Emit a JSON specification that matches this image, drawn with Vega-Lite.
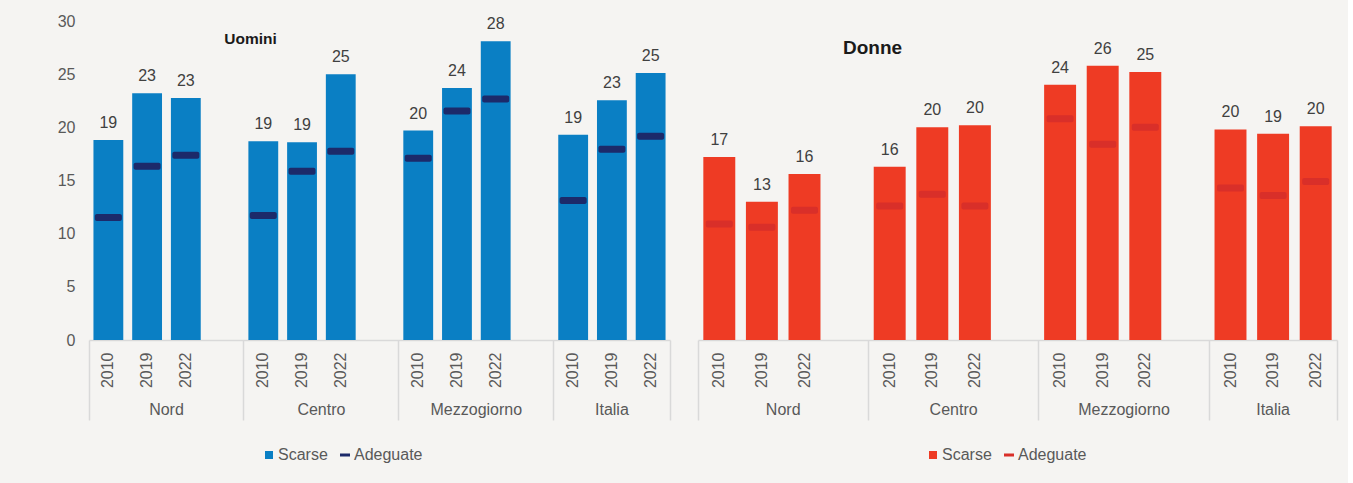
{
  "$schema": "https://vega.github.io/schema/vega-lite/v6.json",
  "background": "#f5f4f2",
  "padding": {"left": 57, "top": 13, "right": 10, "bottom": 24},
  "config": {"view": {"stroke": null}, "font": "Liberation Sans", "text": {"font": "Liberation Sans"}},
  "datasets": {
    "uomini": [
      {"slot": "Nord 2010", "scarse": 18.8, "adeguate": 11.52},
      {"slot": "Nord 2019", "scarse": 23.2, "adeguate": 16.34},
      {"slot": "Nord 2022", "scarse": 22.76, "adeguate": 17.37},
      {"slot": "Centro 2010", "scarse": 18.7, "adeguate": 11.7},
      {"slot": "Centro 2019", "scarse": 18.6, "adeguate": 15.86},
      {"slot": "Centro 2022", "scarse": 25.0, "adeguate": 17.75},
      {"slot": "Mezzogiorno 2010", "scarse": 19.7, "adeguate": 17.09},
      {"slot": "Mezzogiorno 2019", "scarse": 23.7, "adeguate": 21.53},
      {"slot": "Mezzogiorno 2022", "scarse": 28.1, "adeguate": 22.66},
      {"slot": "Italia 2010", "scarse": 19.3, "adeguate": 13.13},
      {"slot": "Italia 2019", "scarse": 22.55, "adeguate": 17.94},
      {"slot": "Italia 2022", "scarse": 25.1, "adeguate": 19.17}
    ],
    "donne": [
      {"slot": "Nord 2010", "scarse": 17.2, "adeguate": 10.9},
      {"slot": "Nord 2019", "scarse": 13.0, "adeguate": 10.6},
      {"slot": "Nord 2022", "scarse": 15.6, "adeguate": 12.2},
      {"slot": "Centro 2010", "scarse": 16.3, "adeguate": 12.6},
      {"slot": "Centro 2019", "scarse": 20.0, "adeguate": 13.7},
      {"slot": "Centro 2022", "scarse": 20.2, "adeguate": 12.6},
      {"slot": "Mezzogiorno 2010", "scarse": 24.0, "adeguate": 20.8},
      {"slot": "Mezzogiorno 2019", "scarse": 25.8, "adeguate": 18.4},
      {"slot": "Mezzogiorno 2022", "scarse": 25.2, "adeguate": 20.0},
      {"slot": "Italia 2010", "scarse": 19.8, "adeguate": 14.3},
      {"slot": "Italia 2019", "scarse": 19.4, "adeguate": 13.6},
      {"slot": "Italia 2022", "scarse": 20.1, "adeguate": 14.9}
    ]
  },
  "hconcat": [
    {
      "width": 581,
      "height": 319,
      "data": {"name": "uomini"},
      "title": {"text": "Uomini", "fontSize": 15.5, "fontWeight": "bold", "color": "#1a1a1a", "anchor": "middle", "frame": "group", "dx": -129, "dy": 38, "font": "Liberation Sans"},
      "resolve": {"axis": {"x": "independent"}},
      "layer": [
        {
          "mark": {"type": "bar", "width": {"band": 0.77}},
          "encoding": {
            "x": {"field": "slot", "type": "nominal", "sort": null,
              "scale": {"domain": ["Nord 2010","Nord 2019","Nord 2022","Nord gap","Centro 2010","Centro 2019","Centro 2022","Centro gap","Mezzogiorno 2010","Mezzogiorno 2019","Mezzogiorno 2022","Mezzogiorno gap","Italia 2010","Italia 2019","Italia 2022"], "paddingInner": 0, "paddingOuter": 0},
              "axis": {"orient": "bottom", "title": null, "grid": false, "bandPosition": 0, "ticks": true, "tickSize": 80, "tickWidth": 1.5,
                "tickColor": {"condition": {"test": "slice(datum.value, -4) === '2010'", "value": "#d9d9d9"}, "value": "transparent"},
                "domain": true, "domainColor": "#d9d9d9", "domainWidth": 1.5,
                "labelExpr": "indexof(datum.value, 'gap') >= 0 ? '' : slice(datum.value, -4)",
                "labelAngle": -90, "labelPadding": -68, "labelFontSize": 16, "labelColor": "#595959", "labelFont": "Liberation Sans", "labelOverlap": false}},
            "y": {"field": "scarse", "type": "quantitative", "scale": {"domain": [0, 30], "nice": false},
              "axis": {"title": null, "grid": false, "domain": false, "ticks": false, "values": [0,5,10,15,20,25,30], "labelPadding": 14, "labelFontSize": 16, "labelColor": "#595959", "labelFont": "Liberation Sans"}},
            "color": {"datum": "Scarse", "type": "nominal",
              "scale": {"domain": ["Scarse", "Adeguate"], "range": ["#0a7fc4", "#1c2a6a"]},
              "legend": {"orient": "none", "legendX": 172, "legendY": 426, "direction": "horizontal", "title": null, "labelFontSize": 16, "labelColor": "#595959", "labelFont": "Liberation Sans", "symbolSize": 100, "columnPadding": 9, "labelOffset": 1,
                "encode": {"symbols": {"update": {"shape": {"signal": "datum.value === 'Scarse' ? 'M-0.8,-0.8H0.8V0.8H-0.8Z' : 'M-1,-0.3H1V0.3H-1Z'"}, "fill": {"signal": "datum.value === 'Scarse' ? '#0a7fc4' : '#1c2a6a'"}, "stroke": {"value": "transparent"}, "opacity": {"value": 1}}}}}}
          }
        },
        {
          "mark": {"type": "tick", "orient": "horizontal", "size": 27, "thickness": 7, "cornerRadius": 2, "opacity": 1},
          "encoding": {
            "x": {"field": "slot", "type": "nominal", "sort": null,
              "axis": {"orient": "bottom", "title": null, "grid": false, "bandPosition": 1, "ticks": true, "tickSize": 80, "tickWidth": 1.5,
                "tickColor": {"condition": {"test": "datum.value === 'Italia 2022'", "value": "#d9d9d9"}, "value": "transparent"},
                "domain": false,
                "labelExpr": "datum.value === 'Nord 2019' ? 'Nord' : datum.value === 'Centro 2019' ? 'Centro' : datum.value === 'Mezzogiorno 2019' ? 'Mezzogiorno' : datum.value === 'Italia 2019' ? 'Italia' : ''",
                "labelOffset": {"condition": {"test": "datum.value === 'Italia 2019'", "value": 0}, "value": 19.37},
                "labelAngle": 0, "labelPadding": -19, "labelFontSize": 16, "labelColor": "#595959", "labelFont": "Liberation Sans", "labelOverlap": false}},
            "y": {"field": "adeguate", "type": "quantitative", "scale": {"domain": [0, 30], "nice": false},
              "axis": {"title": null, "grid": false, "domain": false, "ticks": false, "values": [0,5,10,15,20,25,30], "labelPadding": 14, "labelFontSize": 16, "labelColor": "#595959", "labelFont": "Liberation Sans"}},
            "color": {"datum": "Adeguate", "type": "nominal",
              "scale": {"domain": ["Scarse", "Adeguate"], "range": ["#0a7fc4", "#1c2a6a"]},
              "legend": {"orient": "none", "legendX": 172, "legendY": 426, "direction": "horizontal", "title": null, "labelFontSize": 16, "labelColor": "#595959", "labelFont": "Liberation Sans", "symbolSize": 100, "columnPadding": 9, "labelOffset": 1,
                "encode": {"symbols": {"update": {"shape": {"signal": "datum.value === 'Scarse' ? 'M-0.8,-0.8H0.8V0.8H-0.8Z' : 'M-1,-0.3H1V0.3H-1Z'"}, "fill": {"signal": "datum.value === 'Scarse' ? '#0a7fc4' : '#1c2a6a'"}, "stroke": {"value": "transparent"}, "opacity": {"value": 1}}}}}}
          }
        },
        {
          "mark": {"type": "text", "baseline": "alphabetic", "dy": -12, "fontSize": 16, "color": "#404040", "font": "Liberation Sans"},
          "encoding": {
            "x": {"field": "slot", "type": "nominal", "sort": null, "axis": null},
            "y": {"field": "scarse", "type": "quantitative", "scale": {"domain": [0, 30], "nice": false},
              "axis": {"title": null, "grid": false, "domain": false, "ticks": false, "values": [0,5,10,15,20,25,30], "labelPadding": 14, "labelFontSize": 16, "labelColor": "#595959", "labelFont": "Liberation Sans"}},
            "text": {"field": "scarse", "type": "quantitative", "format": ".0f"}
          }
        }
      ]
    },
    {
      "width": 639,
      "height": 319,
      "data": {"name": "donne"},
      "title": {"text": "Donne", "fontSize": 19, "fontWeight": "bold", "color": "#1a1a1a", "anchor": "middle", "frame": "group", "dx": -145, "dy": 41, "font": "Liberation Sans"},
      "resolve": {"axis": {"x": "independent"}},
      "layer": [
        {
          "mark": {"type": "bar", "width": {"band": 0.75}},
          "encoding": {
            "x": {"field": "slot", "type": "nominal", "sort": null,
              "scale": {"domain": ["Nord 2010","Nord 2019","Nord 2022","Nord gap","Centro 2010","Centro 2019","Centro 2022","Centro gap","Mezzogiorno 2010","Mezzogiorno 2019","Mezzogiorno 2022","Mezzogiorno gap","Italia 2010","Italia 2019","Italia 2022"], "paddingInner": 0, "paddingOuter": 0},
              "axis": {"orient": "bottom", "title": null, "grid": false, "bandPosition": 0, "ticks": true, "tickSize": 80, "tickWidth": 1.5,
                "tickColor": {"condition": {"test": "slice(datum.value, -4) === '2010'", "value": "#d9d9d9"}, "value": "transparent"},
                "domain": true, "domainColor": "#d9d9d9", "domainWidth": 1.5,
                "labelExpr": "indexof(datum.value, 'gap') >= 0 ? '' : slice(datum.value, -4)",
                "labelAngle": -90, "labelPadding": -68, "labelFontSize": 16, "labelColor": "#595959", "labelFont": "Liberation Sans", "labelOverlap": false}},
            "y": {"field": "scarse", "type": "quantitative", "scale": {"domain": [0, 30], "nice": false}, "axis": null},
            "color": {"datum": "Scarse", "type": "nominal",
              "scale": {"domain": ["Scarse", "Adeguate"], "range": ["#ee3b24", "#d92f29"]},
              "legend": {"orient": "none", "legendX": 227, "legendY": 426, "direction": "horizontal", "title": null, "labelFontSize": 16, "labelColor": "#595959", "labelFont": "Liberation Sans", "symbolSize": 100, "columnPadding": 9, "labelOffset": 1,
                "encode": {"symbols": {"update": {"shape": {"signal": "datum.value === 'Scarse' ? 'M-0.8,-0.8H0.8V0.8H-0.8Z' : 'M-1,-0.3H1V0.3H-1Z'"}, "fill": {"signal": "datum.value === 'Scarse' ? '#ee3b24' : '#d92f29'"}, "stroke": {"value": "transparent"}, "opacity": {"value": 1}}}}}}
          }
        },
        {
          "mark": {"type": "tick", "orient": "horizontal", "size": 27, "thickness": 7, "cornerRadius": 2, "opacity": 1},
          "encoding": {
            "x": {"field": "slot", "type": "nominal", "sort": null,
              "axis": {"orient": "bottom", "title": null, "grid": false, "bandPosition": 1, "ticks": true, "tickSize": 80, "tickWidth": 1.5,
                "tickColor": {"condition": {"test": "datum.value === 'Italia 2022'", "value": "#d9d9d9"}, "value": "transparent"},
                "domain": false,
                "labelExpr": "datum.value === 'Nord 2019' ? 'Nord' : datum.value === 'Centro 2019' ? 'Centro' : datum.value === 'Mezzogiorno 2019' ? 'Mezzogiorno' : datum.value === 'Italia 2019' ? 'Italia' : ''",
                "labelOffset": {"condition": {"test": "datum.value === 'Italia 2019'", "value": 0}, "value": 21.3},
                "labelAngle": 0, "labelPadding": -19, "labelFontSize": 16, "labelColor": "#595959", "labelFont": "Liberation Sans", "labelOverlap": false}},
            "y": {"field": "adeguate", "type": "quantitative", "scale": {"domain": [0, 30], "nice": false}, "axis": null},
            "color": {"datum": "Adeguate", "type": "nominal",
              "scale": {"domain": ["Scarse", "Adeguate"], "range": ["#ee3b24", "#d92f29"]},
              "legend": {"orient": "none", "legendX": 227, "legendY": 426, "direction": "horizontal", "title": null, "labelFontSize": 16, "labelColor": "#595959", "labelFont": "Liberation Sans", "symbolSize": 100, "columnPadding": 9, "labelOffset": 1,
                "encode": {"symbols": {"update": {"shape": {"signal": "datum.value === 'Scarse' ? 'M-0.8,-0.8H0.8V0.8H-0.8Z' : 'M-1,-0.3H1V0.3H-1Z'"}, "fill": {"signal": "datum.value === 'Scarse' ? '#ee3b24' : '#d92f29'"}, "stroke": {"value": "transparent"}, "opacity": {"value": 1}}}}}}
          }
        },
        {
          "mark": {"type": "text", "baseline": "alphabetic", "dy": -12, "fontSize": 16, "color": "#404040", "font": "Liberation Sans"},
          "encoding": {
            "x": {"field": "slot", "type": "nominal", "sort": null, "axis": null},
            "y": {"field": "scarse", "type": "quantitative", "scale": {"domain": [0, 30], "nice": false}, "axis": null},
            "text": {"field": "scarse", "type": "quantitative", "format": ".0f"}
          }
        }
      ]
    }
  ],
  "spacing": 28,
  "bounds": "flush",
  "resolve": {"scale": {"color": "independent", "x": "independent", "y": "independent"}, "legend": {"color": "independent"}}
}
